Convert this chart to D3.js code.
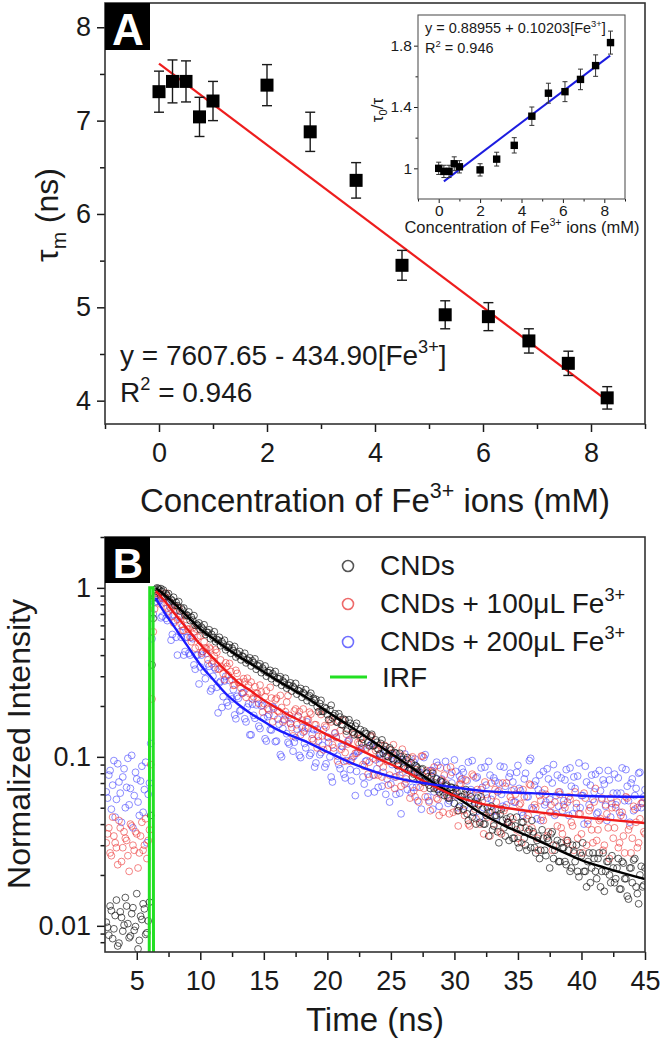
<!DOCTYPE html>
<html>
<head>
<meta charset="utf-8">
<script src="https://cdn.jsdelivr.net/npm/d3@7"></script>
<style>
  body { margin: 0; background: #fff; }
  svg { display: block; font-family: "Liberation Sans", Arial, Helvetica, sans-serif; }
</style>
</head>
<body>
<svg id="chart" width="661" height="1041"></svg>
<script>
// ---- panel A : mean lifetime vs Fe3+ concentration ----
const concentration = [0, 0.25, 0.5, 0.75, 1.0, 2.0, 2.8, 3.65, 4.5, 5.3, 6.1, 6.85, 7.58, 8.3];
const tauMean = [7.31, 7.42, 7.42, 7.04, 7.21, 7.38, 6.88, 6.36, 5.45, 4.92, 4.9, 4.64, 4.4, 4.03];
const tauError = [0.22, 0.23, 0.22, 0.21, 0.21, 0.22, 0.21, 0.19, 0.16, 0.15, 0.15, 0.13, 0.13, 0.12];
const tauFitX = [0, 8.3];
const tauFitY = [7.61, 4.0];

// ---- inset : tau0/tau ----
const tauRatio = [1.0, 0.98, 0.98, 1.03, 1.01, 0.99, 1.06, 1.15, 1.34, 1.49, 1.5, 1.58, 1.67, 1.82];
const ratioError = [0.04, 0.04, 0.04, 0.045, 0.04, 0.04, 0.045, 0.05, 0.06, 0.065, 0.065, 0.067, 0.07, 0.075];
const ratioFitX = [0.25, 8.28];
const ratioFitY = [0.915, 1.735];

// ---- panel B : decay curves ----
// channels every 0.2 ns: "even" ones start at 2.6 ns, "odd" ones at 2.7 ns
const evenStart = 2.6;
const oddStart = 2.7;
const channelStep = 0.2;
const cndsEven = [
  0.0105, 0.0088, 0.0123, 0.0096, 0.0142, 0.0079, 0.0112, 0.0101, 0.0131, 0.0085,
  0.0118, 0.0094, 0.0155, 0.0082, 0.0109, 0.0126, 0.0091, 0.0138, 0.35, 0.88,
  1.0, 0.97, 0.95, 0.89, 0.90, 0.83, 0.84, 0.79, 0.785, 0.73,
  0.74, 0.69, 0.685, 0.64, 0.645, 0.60, 0.60, 0.565, 0.57, 0.53,
  0.545, 0.50, 0.51, 0.48, 0.49, 0.455, 0.465, 0.43, 0.445, 0.41,
  0.425, 0.39, 0.40, 0.375, 0.39, 0.36, 0.37, 0.345, 0.36, 0.33,
  0.345, 0.315, 0.325, 0.30, 0.315, 0.29, 0.30, 0.275, 0.29, 0.265,
  0.275, 0.255, 0.265, 0.245, 0.255, 0.235, 0.245, 0.225, 0.235, 0.215,
  0.23, 0.21, 0.215, 0.198, 0.207, 0.186, 0.196, 0.178, 0.19, 0.17,
  0.18, 0.16, 0.172, 0.155, 0.165, 0.146, 0.158, 0.14, 0.152, 0.135,
  0.145, 0.127, 0.138, 0.122, 0.133, 0.116, 0.126, 0.111, 0.12, 0.105,
  0.115, 0.1, 0.11, 0.096, 0.105, 0.091, 0.1, 0.087, 0.096, 0.083,
  0.092, 0.079, 0.088, 0.075, 0.084, 0.071, 0.08, 0.068, 0.077, 0.065,
  0.074, 0.062, 0.071, 0.059, 0.068, 0.057, 0.066, 0.053, 0.062, 0.051,
  0.058, 0.06, 0.046, 0.055, 0.044, 0.053, 0.057, 0.041, 0.049, 0.04,
  0.05, 0.047, 0.037, 0.045, 0.036, 0.046, 0.042, 0.034, 0.041, 0.044,
  0.033, 0.039, 0.031, 0.038, 0.041, 0.03, 0.036, 0.029, 0.036, 0.027,
  0.034, 0.028, 0.033, 0.026, 0.032, 0.035, 0.025, 0.03, 0.024, 0.031,
  0.029, 0.023, 0.028, 0.022, 0.027, 0.03, 0.0195, 0.026, 0.021, 0.017,
  0.027, 0.022, 0.025, 0.019, 0.027, 0.021, 0.016, 0.024, 0.02, 0.026,
  0.018, 0.022, 0.0165, 0.024, 0.019, 0.015, 0.022, 0.018, 0.025, 0.0155,
  0.02, 0.017, 0.022
];
const cndsOdd = [
  0.0098, 0.0131, 0.0084, 0.0115, 0.0076, 0.0121, 0.0093, 0.0147, 0.0103, 0.0087,
  0.0128, 0.0099, 0.0073, 0.0114, 0.0135, 0.0089, 0.0107, 0.045, 0.66, 0.98,
  0.99, 0.99, 0.97, 0.92, 0.925, 0.855, 0.88, 0.82, 0.83, 0.76,
  0.76, 0.695, 0.72, 0.67, 0.685, 0.61, 0.62, 0.585, 0.605, 0.545,
  0.565, 0.53, 0.55, 0.495, 0.51, 0.48, 0.49, 0.445, 0.46, 0.44,
  0.45, 0.41, 0.42, 0.395, 0.41, 0.375, 0.385, 0.37, 0.38, 0.345,
  0.355, 0.335, 0.345, 0.315, 0.325, 0.31, 0.32, 0.29, 0.298, 0.281,
  0.292, 0.265, 0.274, 0.261, 0.272, 0.247, 0.254, 0.24, 0.25, 0.226,
  0.238, 0.222, 0.219, 0.185, 0.216, 0.186, 0.193, 0.166, 0.202, 0.175,
  0.161, 0.18, 0.155, 0.167, 0.142, 0.166, 0.151, 0.135, 0.158, 0.136,
  0.121, 0.142, 0.137, 0.116, 0.136, 0.117, 0.122, 0.104, 0.126, 0.11,
  0.101, 0.113, 0.098, 0.106, 0.089, 0.105, 0.096, 0.085, 0.099, 0.086,
  0.076, 0.089, 0.086, 0.073, 0.085, 0.073, 0.076, 0.065, 0.08, 0.07,
  0.064, 0.072, 0.062, 0.067, 0.057, 0.066, 0.061, 0.065, 0.048, 0.058,
  0.049, 0.064, 0.042, 0.058, 0.047, 0.04, 0.052, 0.058, 0.04, 0.045,
  0.034, 0.051, 0.039, 0.045, 0.031, 0.049, 0.038, 0.043, 0.032, 0.039,
  0.033, 0.044, 0.029, 0.041, 0.033, 0.028, 0.037, 0.042, 0.029, 0.032,
  0.025, 0.037, 0.028, 0.033, 0.022, 0.036, 0.028, 0.032, 0.024, 0.029,
  0.024, 0.032, 0.021, 0.03, 0.024, 0.021, 0.027, 0.031, 0.021, 0.024,
  0.018, 0.027, 0.021, 0.025, 0.017, 0.027, 0.021, 0.024, 0.018, 0.022,
  0.019, 0.025, 0.0165, 0.0235, 0.019, 0.0144, 0.022, 0.0245, 0.017, 0.0135,
  0.0225, 0.0174
];
const fe100Even = [
  0.031, 0.038, 0.026, 0.034, 0.029, 0.042, 0.024, 0.036, 0.032, 0.021,
  0.039, 0.028, 0.035, 0.027, 0.041, 0.03, 0.025, 0.037, 0.22, 0.75,
  0.90, 0.93, 0.87, 0.88, 0.76, 0.825, 0.68, 0.78, 0.65, 0.68,
  0.56, 0.68, 0.57, 0.51, 0.58, 0.44, 0.51, 0.52, 0.42, 0.44,
  0.375, 0.435, 0.37, 0.43, 0.33, 0.375, 0.31, 0.36, 0.305, 0.32,
  0.265, 0.325, 0.275, 0.255, 0.29, 0.225, 0.265, 0.277, 0.227, 0.238,
  0.207, 0.242, 0.207, 0.246, 0.19, 0.223, 0.175, 0.222, 0.185, 0.196,
  0.165, 0.211, 0.176, 0.149, 0.187, 0.155, 0.185, 0.165, 0.142, 0.167,
  0.184, 0.128, 0.155, 0.113, 0.186, 0.133, 0.153, 0.111, 0.166, 0.118,
  0.139, 0.0945, 0.143, 0.165, 0.106, 0.119, 0.094, 0.14, 0.105, 0.122,
  0.129, 0.09, 0.11, 0.079, 0.131, 0.098, 0.109, 0.078, 0.117, 0.087,
  0.1, 0.068, 0.105, 0.118, 0.076, 0.088, 0.067, 0.1, 0.074, 0.09,
  0.098, 0.063, 0.084, 0.054, 0.101, 0.065, 0.083, 0.054, 0.072, 0.087,
  0.057, 0.045, 0.073, 0.078, 0.059, 0.046, 0.081, 0.059, 0.048, 0.069,
  0.074, 0.045, 0.062, 0.039, 0.079, 0.049, 0.064, 0.04, 0.055, 0.071,
  0.044, 0.034, 0.059, 0.064, 0.048, 0.036, 0.07, 0.05, 0.041, 0.058,
  0.043, 0.06, 0.033, 0.053, 0.064, 0.038, 0.045, 0.068, 0.035, 0.05,
  0.028, 0.055, 0.042, 0.06, 0.036, 0.052, 0.03, 0.046, 0.062, 0.038,
  0.052, 0.032, 0.058, 0.041, 0.028, 0.053, 0.046, 0.035, 0.061, 0.03,
  0.048, 0.037, 0.054, 0.032, 0.042, 0.057, 0.03, 0.046, 0.025, 0.05,
  0.038, 0.054, 0.031, 0.047, 0.027, 0.057, 0.039, 0.033, 0.049, 0.029,
  0.043, 0.054, 0.035
];
const fe100Odd = [
  0.035, 0.027, 0.044, 0.031, 0.023, 0.038, 0.029, 0.033, 0.026, 0.04,
  0.03, 0.036, 0.022, 0.034, 0.028, 0.043, 0.032, 0.09, 0.55, 0.93,
  0.921, 0.8, 0.89, 0.93, 0.73, 0.75, 0.62, 0.74, 0.76, 0.61,
  0.56, 0.65, 0.57, 0.48, 0.55, 0.57, 0.45, 0.41, 0.48, 0.435,
  0.445, 0.355, 0.395, 0.415, 0.332, 0.34, 0.286, 0.343, 0.357, 0.286,
  0.266, 0.312, 0.277, 0.237, 0.278, 0.292, 0.236, 0.22, 0.26, 0.237,
  0.266, 0.184, 0.227, 0.193, 0.258, 0.161, 0.217, 0.187, 0.231, 0.161,
  0.185, 0.23, 0.157, 0.133, 0.192, 0.174, 0.135, 0.192, 0.148, 0.166,
  0.179, 0.125, 0.155, 0.132, 0.178, 0.11, 0.15, 0.13, 0.161, 0.113,
  0.13, 0.163, 0.111, 0.094, 0.136, 0.124, 0.096, 0.137, 0.105, 0.119,
  0.13, 0.088, 0.113, 0.093, 0.133, 0.078, 0.112, 0.092, 0.076, 0.117,
  0.094, 0.078, 0.105, 0.065, 0.095, 0.078, 0.111, 0.069, 0.085, 0.057,
  0.1, 0.058, 0.081, 0.066, 0.101, 0.058, 0.081, 0.048, 0.082, 0.066,
  0.056, 0.086, 0.047, 0.07, 0.058, 0.087, 0.047, 0.061, 0.039, 0.069,
  0.048, 0.073, 0.04, 0.061, 0.077, 0.043, 0.053, 0.064, 0.035, 0.06,
  0.047, 0.07, 0.04, 0.054, 0.063, 0.035, 0.048, 0.07, 0.041, 0.055,
  0.064, 0.037, 0.052, 0.031, 0.058, 0.043, 0.069, 0.038, 0.052, 0.033,
  0.059, 0.044, 0.064, 0.034, 0.047, 0.028, 0.054, 0.039, 0.06, 0.035,
  0.05, 0.031, 0.056, 0.039, 0.062, 0.033, 0.046, 0.027, 0.057, 0.04,
  0.05, 0.031, 0.065, 0.037, 0.043, 0.028, 0.052, 0.038, 0.057, 0.033,
  0.05, 0.029, 0.045, 0.034, 0.058, 0.037, 0.027, 0.051, 0.041, 0.031,
  0.053, 0.036
];
const fe200Even = [
  0.062, 0.078, 0.049, 0.095, 0.056, 0.071, 0.041, 0.085, 0.066, 0.052,
  0.102, 0.059, 0.074, 0.045, 0.088, 0.064, 0.031, 0.07, 0.5, 0.82,
  0.83, 0.84, 0.68, 0.82, 0.64, 0.77, 0.53, 0.64, 0.4, 0.55,
  0.59, 0.42, 0.51, 0.40, 0.5, 0.33, 0.4, 0.34, 0.42, 0.29,
  0.355, 0.245, 0.3, 0.33, 0.182, 0.28, 0.227, 0.3, 0.2, 0.227,
  0.25, 0.168, 0.222, 0.189, 0.24, 0.161, 0.206, 0.135, 0.176, 0.203,
  0.152, 0.2, 0.17, 0.124, 0.178, 0.144, 0.194, 0.124, 0.156, 0.1,
  0.167, 0.137, 0.119, 0.168, 0.122, 0.146, 0.102, 0.149, 0.12, 0.161,
  0.102, 0.136, 0.087, 0.146, 0.103, 0.117, 0.087, 0.131, 0.1, 0.071,
  0.138, 0.101, 0.085, 0.115, 0.075, 0.123, 0.084, 0.1, 0.059, 0.107,
  0.11, 0.076, 0.094, 0.061, 0.117, 0.078, 0.096, 0.066, 0.104, 0.081,
  0.06, 0.095, 0.069, 0.103, 0.06, 0.084, 0.046, 0.094, 0.071, 0.083,
  0.061, 0.093, 0.066, 0.081, 0.049, 0.099, 0.071, 0.055, 0.083, 0.062,
  0.093, 0.051, 0.074, 0.064, 0.086, 0.055, 0.07, 0.096, 0.058, 0.077,
  0.085, 0.051, 0.072, 0.061, 0.095, 0.054, 0.076, 0.044, 0.066, 0.087,
  0.057, 0.078, 0.048, 0.072, 0.062, 0.088, 0.051, 0.067, 0.041, 0.08,
  0.071, 0.054, 0.089, 0.063, 0.045, 0.08, 0.058, 0.098, 0.049, 0.072,
  0.064, 0.042, 0.082, 0.054, 0.074, 0.047, 0.09, 0.059, 0.051, 0.075,
  0.055, 0.084, 0.045, 0.067, 0.076, 0.05, 0.092, 0.059, 0.04, 0.071,
  0.052, 0.078, 0.062, 0.046, 0.083, 0.056, 0.069, 0.042, 0.073, 0.053,
  0.079, 0.061, 0.047, 0.086, 0.055, 0.067, 0.041, 0.074, 0.059, 0.05,
  0.081, 0.053, 0.064
];
const fe200Odd = [
  0.057, 0.083, 0.068, 0.044, 0.091, 0.061, 0.076, 0.05, 0.098, 0.065,
  0.038, 0.081, 0.054, 0.072, 0.047, 0.093, 0.06, 0.12, 0.7, 0.87,
  0.86, 0.665, 0.88, 0.66, 0.69, 0.49, 0.69, 0.51, 0.67, 0.51,
  0.4, 0.51, 0.41, 0.51, 0.35, 0.4, 0.27, 0.4, 0.32, 0.41,
  0.343, 0.253, 0.338, 0.258, 0.274, 0.196, 0.281, 0.21, 0.283, 0.22,
  0.177, 0.228, 0.187, 0.239, 0.168, 0.197, 0.135, 0.205, 0.169, 0.221,
  0.147, 0.202, 0.128, 0.173, 0.145, 0.198, 0.123, 0.167, 0.103, 0.147,
  0.177, 0.122, 0.158, 0.108, 0.13, 0.174, 0.099, 0.14, 0.113, 0.148,
  0.105, 0.145, 0.092, 0.124, 0.106, 0.145, 0.091, 0.122, 0.076, 0.108,
  0.131, 0.09, 0.116, 0.079, 0.095, 0.126, 0.072, 0.101, 0.082, 0.108,
  0.113, 0.069, 0.095, 0.076, 0.12, 0.062, 0.085, 0.098, 0.067, 0.108,
  0.074, 0.054, 0.09, 0.076, 0.098, 0.061, 0.081, 0.104, 0.064, 0.083,
  0.066, 0.097, 0.055, 0.081, 0.072, 0.103, 0.058, 0.083, 0.049, 0.075,
  0.089, 0.06, 0.071, 0.094, 0.053, 0.078, 0.063, 0.082, 0.05, 0.073,
  0.081, 0.056, 0.093, 0.064, 0.047, 0.075, 0.059, 0.086, 0.05, 0.068,
  0.094, 0.056, 0.075, 0.044, 0.07, 0.06, 0.087, 0.052, 0.076, 0.063,
  0.054, 0.081, 0.065, 0.047, 0.074, 0.058, 0.095, 0.05, 0.068, 0.043,
  0.078, 0.061, 0.052, 0.085, 0.056, 0.07, 0.045, 0.078, 0.062, 0.048,
  0.073, 0.054, 0.086, 0.046, 0.065, 0.077, 0.05, 0.059, 0.088, 0.042,
  0.068, 0.056, 0.079, 0.047, 0.063, 0.073, 0.051, 0.083, 0.044, 0.061,
  0.052, 0.075, 0.061, 0.044, 0.084, 0.055, 0.07, 0.048, 0.065, 0.08,
  0.05, 0.058
];

// fitted decays
const fitTimes = [6.5, 7, 8, 9, 10, 11, 12, 13, 14, 15, 16, 17, 18, 20, 22, 24, 26, 28, 30, 32, 34, 36, 38, 40, 42, 45];
const cndsFit = [1.0, 0.933, 0.80, 0.676, 0.571, 0.501, 0.442, 0.394, 0.355, 0.318, 0.285, 0.257, 0.233, 0.185, 0.148, 0.1175, 0.0933, 0.0733, 0.0589, 0.0468, 0.0389, 0.0335, 0.0285, 0.0245, 0.0219, 0.0189];
const fe100Fit = [0.955, 0.871, 0.70, 0.569, 0.462, 0.385, 0.324, 0.275, 0.245, 0.216, 0.195, 0.176, 0.162, 0.135, 0.115, 0.0977, 0.0832, 0.0692, 0.0589, 0.0531, 0.0499, 0.0476, 0.0457, 0.0439, 0.0425, 0.0406];
const fe200Fit = [0.871, 0.75, 0.582, 0.452, 0.351, 0.288, 0.237, 0.204, 0.18, 0.162, 0.146, 0.135, 0.126, 0.107, 0.0912, 0.0804, 0.0733, 0.0692, 0.0661, 0.0631, 0.0617, 0.061, 0.06, 0.0589, 0.0583, 0.058];

const irfTimes = [5.9, 5.98, 6.02, 6.28, 6.32, 6.4];
const irfValues = [0.0005, 0.005, 1.0, 1.0, 0.005, 0.0005];

// ticks
const tauTicks = [4, 5, 6, 7, 8];
const tauMinor = [4.5, 5.5, 6.5, 7.5];
const concTicks = [0, 2, 4, 6, 8];
const concMinor = [-1, 1, 3, 5, 7, 9];
const ratioTicks = [1, 1.4, 1.8];
const ratioMinor = [1.2, 1.6];
const timeTicks = [5, 10, 15, 20, 25, 30, 35, 40, 45];
const timeMinor = [7.5, 12.5, 17.5, 22.5, 27.5, 32.5, 37.5, 42.5];
const intensityTicks = [0.01, 0.1, 1];
const intensityMinor = [0.008, 0.009, 0.02, 0.03, 0.04, 0.05, 0.06, 0.07, 0.08, 0.09,
  0.2, 0.3, 0.4, 0.5, 0.6, 0.7, 0.8, 0.9, 2];

const seriesNames = ["CNDs", "CNDs + 100μL Fe", "CNDs + 200μL Fe"];

const svg = d3.select("#chart");
const ink = "#1a1a1a";

// text with super/subscripts: parts = [[string, "sup"|"sub"|undefined], ...]
function writeParts(textSel, parts, size) {
  let shift = 0;
  parts.forEach(([str, kind]) => {
    const target = kind === "sup" ? -0.42 * size : kind === "sub" ? 0.25 * size : 0;
    textSel.append("tspan")
      .attr("dy", target - shift)
      .attr("font-size", kind ? size * 0.65 : size)
      .text(str);
    shift = target;
  });
}

function styleAxis(g, size, width) {
  g.attr("font-family", null).attr("font-size", null);
  g.select(".domain").remove();
  g.selectAll(".tick line").attr("stroke", ink).attr("stroke-width", width);
  g.selectAll(".tick text").attr("fill", ink).style("font-size", size + "px");
}

function addAxis(axis, translate, size, width = 1.5) {
  svg.append("g").attr("transform", translate).call(axis).call((g) => styleAxis(g, size, width));
}

// ================= panel A =================
const xA = d3.scaleLinear().domain([-1, 9]).range([105, 645]);
const yA = d3.scaleLinear().domain([3.75, 8.26]).range([424, 3]);

addAxis(d3.axisBottom(xA).tickValues(concTicks).tickSize(8).tickPadding(11).tickFormat(d3.format("d")), "translate(0,424)", 27);
addAxis(d3.axisBottom(xA).tickValues(concMinor).tickSize(5).tickFormat(""), "translate(0,424)", 27);
addAxis(d3.axisLeft(yA).tickValues(tauTicks).tickSize(8).tickPadding(6).tickFormat(d3.format("d")), "translate(105,0)", 27);
addAxis(d3.axisLeft(yA).tickValues(tauMinor).tickSize(5).tickFormat(""), "translate(105,0)", 27);

svg.append("rect")
  .attr("x", 105).attr("y", 3).attr("width", 540).attr("height", 421)
  .attr("fill", "none").attr("stroke", "#333").attr("stroke-width", 1.6);

const lineA = d3.line().x((d) => xA(d[0])).y((d) => yA(d[1]));
svg.append("path")
  .attr("d", lineA(d3.zip(tauFitX, tauFitY)))
  .attr("stroke", "#ee1d1d").attr("stroke-width", 2.2).attr("fill", "none");

concentration.forEach((c, i) => {
  const cx = xA(c);
  const top = yA(tauMean[i] + tauError[i]);
  const bot = yA(tauMean[i] - tauError[i]);
  const g = svg.append("g").attr("stroke", ink).attr("stroke-width", 1.4);
  g.append("line").attr("x1", cx).attr("x2", cx).attr("y1", top).attr("y2", bot);
  g.append("line").attr("x1", cx - 5).attr("x2", cx + 5).attr("y1", top).attr("y2", top);
  g.append("line").attr("x1", cx - 5).attr("x2", cx + 5).attr("y1", bot).attr("y2", bot);
  svg.append("rect")
    .attr("x", cx - 6.5).attr("y", yA(tauMean[i]) - 6.5)
    .attr("width", 13).attr("height", 13).attr("fill", "#000");
});

svg.append("text")
  .attr("x", 120).attr("y", 365).attr("fill", ink)
  .call((t) => writeParts(t, [["y = 7607.65 - 434.90[Fe"], ["3+", "sup"], ["]"]], 28));
svg.append("text")
  .attr("x", 120).attr("y", 402).attr("fill", ink)
  .call((t) => writeParts(t, [["R"], ["2", "sup"], [" = 0.946"]], 28));

svg.append("text")
  .attr("transform", "translate(58,215) rotate(-90)")
  .attr("text-anchor", "middle").attr("fill", ink)
  .call((t) => writeParts(t, [["τ"], ["m", "sub"], [" (ns)"]], 32));

svg.append("text")
  .attr("x", 375).attr("y", 512).attr("text-anchor", "middle").attr("fill", ink)
  .call((t) => writeParts(t, [["Concentration of Fe"], ["3+", "sup"], [" ions (mM)"]], 33));

svg.append("rect").attr("x", 105).attr("y", 3).attr("width", 45).attr("height", 47).attr("fill", "#000");
svg.append("text")
  .attr("x", 128).attr("y", 45).attr("text-anchor", "middle")
  .attr("fill", "#fff").attr("font-weight", "bold").attr("font-size", 44)
  .text("A");

// ---------------- inset ----------------
const xI = d3.scaleLinear().domain([-1, 9]).range([418, 625]);
const yI = d3.scaleLinear().domain([0.8, 2.0]).range([199, 15]);

svg.append("rect").attr("x", 418).attr("y", 15).attr("width", 207).attr("height", 184).attr("fill", "#fff");
addAxis(d3.axisBottom(xI).tickValues(concTicks).tickSize(4).tickPadding(2).tickFormat(d3.format("d")), "translate(0,199)", 15.5, 1);
addAxis(d3.axisBottom(xI).tickValues(concMinor).tickSize(2.5).tickFormat(""), "translate(0,199)", 15.5, 1);
addAxis(d3.axisLeft(yI).tickValues(ratioTicks).tickSize(4).tickPadding(2).tickFormat(d3.format("~g")), "translate(418,0)", 15.5, 1);
addAxis(d3.axisLeft(yI).tickValues(ratioMinor).tickSize(2.5).tickFormat(""), "translate(418,0)", 15.5, 1);
svg.append("rect")
  .attr("x", 418).attr("y", 15).attr("width", 207).attr("height", 184)
  .attr("fill", "none").attr("stroke", "#555").attr("stroke-width", 1.1);

const lineI = d3.line().x((d) => xI(d[0])).y((d) => yI(d[1]));
svg.append("path")
  .attr("d", lineI(d3.zip(ratioFitX, ratioFitY)))
  .attr("stroke", "#1c1ce0").attr("stroke-width", 2).attr("fill", "none");

concentration.forEach((c, i) => {
  const cx = xI(c);
  const top = yI(tauRatio[i] + ratioError[i]);
  const bot = yI(tauRatio[i] - ratioError[i]);
  const g = svg.append("g").attr("stroke", "#333").attr("stroke-width", 1);
  g.append("line").attr("x1", cx).attr("x2", cx).attr("y1", top).attr("y2", bot);
  g.append("line").attr("x1", cx - 2.5).attr("x2", cx + 2.5).attr("y1", top).attr("y2", top);
  g.append("line").attr("x1", cx - 2.5).attr("x2", cx + 2.5).attr("y1", bot).attr("y2", bot);
  svg.append("rect")
    .attr("x", cx - 3.7).attr("y", yI(tauRatio[i]) - 3.7)
    .attr("width", 7.4).attr("height", 7.4).attr("fill", "#000");
});

svg.append("text")
  .attr("x", 425).attr("y", 33).attr("fill", ink)
  .call((t) => writeParts(t, [["y = 0.88955 + 0.10203[Fe"], ["3+", "sup"], ["]"]], 14.5));
svg.append("text")
  .attr("x", 425).attr("y", 53).attr("fill", ink)
  .call((t) => writeParts(t, [["R"], ["2", "sup"], [" = 0.946"]], 14.5));
svg.append("text")
  .attr("transform", "translate(383,110) rotate(-90)")
  .attr("text-anchor", "middle").attr("fill", ink)
  .call((t) => writeParts(t, [["τ"], ["0", "sub"], ["/τ"]], 17));
svg.append("text")
  .attr("x", 522).attr("y", 233).attr("text-anchor", "middle").attr("fill", ink)
  .call((t) => writeParts(t, [["Concentration of Fe"], ["3+", "sup"], [" ions (mM)"]], 16.5));

// ================= panel B =================
const xB = d3.scaleLinear().domain([2.5, 45]).range([105, 645]);
const yB = d3.scaleLog().domain([0.007, 2]).range([952, 537]);

addAxis(d3.axisBottom(xB).tickValues(timeTicks).tickSize(8).tickPadding(11).tickFormat(d3.format("d")), "translate(0,952)", 27);
addAxis(d3.axisBottom(xB).tickValues(timeMinor).tickSize(5).tickFormat(""), "translate(0,952)", 27);
addAxis(d3.axisLeft(yB).tickValues(intensityTicks).tickSize(8).tickPadding(6).tickFormat(d3.format("~g")), "translate(105,0)", 27);
addAxis(d3.axisLeft(yB).tickValues(intensityMinor).tickSize(4.5).tickFormat(""), "translate(105,0)", 27);

svg.append("defs").append("clipPath").attr("id", "clipB")
  .append("rect").attr("x", 105).attr("y", 537).attr("width", 540).attr("height", 415);

const plotB = svg.append("g").attr("clip-path", "url(#clipB)");

const scatterSets = [
  { even: fe200Even, odd: fe200Odd, color: "#4343ff", opacity: 0.6 },
  { even: fe100Even, odd: fe100Odd, color: "#ec3434", opacity: 0.6 },
  { even: cndsEven, odd: cndsOdd, color: "#111", opacity: 0.68 }
];
scatterSets.forEach((s) => {
  const g = plotB.append("g")
    .attr("fill", "none")
    .attr("stroke", s.color)
    .attr("stroke-opacity", s.opacity)
    .attr("stroke-width", 1);
  [[s.even, evenStart], [s.odd, oddStart]].forEach(([vals, start]) => {
    g.append("g")
      .selectAll("circle")
      .data(vals)
      .join("circle")
      .attr("cx", (d, i) => xB(start + i * channelStep))
      .attr("cy", (d) => yB(d))
      .attr("r", 3.4);
  });
});

const curveB = d3.line().x((d) => xB(d[0])).y((d) => yB(d[1])).curve(d3.curveMonotoneX);
[[cndsFit, "#000"], [fe100Fit, "#f01a1a"], [fe200Fit, "#1a1aff"]].forEach(([vals, color]) => {
  plotB.append("path")
    .attr("d", curveB(d3.zip(fitTimes, vals)))
    .attr("stroke", color).attr("stroke-width", 2.4).attr("fill", "none");
});

plotB.append("path")
  .attr("d", d3.line().x((d) => xB(d[0])).y((d) => yB(d[1]))(d3.zip(irfTimes, irfValues)))
  .attr("stroke", "#22e022").attr("stroke-width", 3).attr("fill", "none");

svg.append("rect")
  .attr("x", 105).attr("y", 537).attr("width", 540).attr("height", 415)
  .attr("fill", "none").attr("stroke", "#333").attr("stroke-width", 1.6);

// legend
const legendColors = ["#555", "#ee6a6a", "#6f6fff"];
seriesNames.forEach((name, i) => {
  const y = 566 + i * 38;
  svg.append("circle").attr("cx", 348).attr("cy", y).attr("r", 5.5)
    .attr("fill", "none").attr("stroke", legendColors[i]).attr("stroke-width", 1.6);
  const parts = i === 0 ? [[name]] : [[name], ["3+", "sup"]];
  svg.append("text").attr("x", 380).attr("y", y + 9).attr("fill", ink)
    .call((t) => writeParts(t, parts, 28));
});
svg.append("line").attr("x1", 330).attr("x2", 367).attr("y1", 677).attr("y2", 677)
  .attr("stroke", "#22e022").attr("stroke-width", 3);
svg.append("text").attr("x", 382).attr("y", 687).attr("fill", ink).attr("font-size", 28).text("IRF");

svg.append("rect").attr("x", 105).attr("y", 537).attr("width", 45).attr("height", 46).attr("fill", "#000");
svg.append("text")
  .attr("x", 128).attr("y", 578).attr("text-anchor", "middle")
  .attr("fill", "#fff").attr("font-weight", "bold").attr("font-size", 42)
  .text("B");

svg.append("text")
  .attr("transform", "translate(30,744) rotate(-90)")
  .attr("text-anchor", "middle").attr("fill", ink).attr("font-size", 32)
  .text("Normalized Intensity");
svg.append("text")
  .attr("x", 375).attr("y", 1031).attr("text-anchor", "middle").attr("fill", ink).attr("font-size", 33)
  .text("Time (ns)");
</script>
</body>
</html>
